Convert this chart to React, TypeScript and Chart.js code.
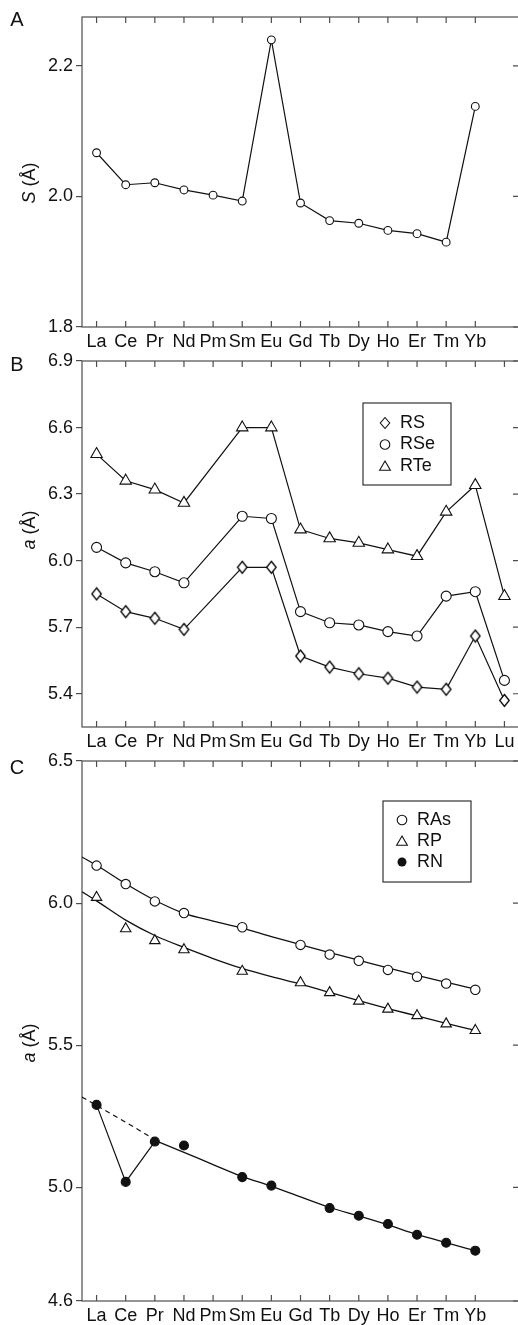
import React, { useEffect, useRef } from 'react';
import { Chart, registerables } from 'chart.js';

Chart.register(...registerables);

// ---------------- data ----------------
const elements = ['La', 'Ce', 'Pr', 'Nd', 'Pm', 'Sm', 'Eu', 'Gd', 'Tb', 'Dy', 'Ho', 'Er', 'Tm', 'Yb', 'Lu'];
const xIndex = elements.map((_, i) => i);
const xTicks14 = xIndex.slice(0, 14);
const xTicks15 = xIndex.slice(0, 15);

// Panel A: S (Å)
const sValues = [2.067, 2.018, 2.021, 2.010, 2.002, 1.993, 2.240, 1.990, 1.963, 1.959, 1.948, 1.943, 1.930, 2.138, null];
const aTicks = [1.8, 2.0, 2.2];

// Panel B: a (Å)
const rsValues = [5.85, 5.77, 5.74, 5.69, null, 5.97, 5.97, 5.57, 5.52, 5.49, 5.47, 5.43, 5.42, 5.66, 5.37];
const rseValues = [6.06, 5.99, 5.95, 5.90, null, 6.20, 6.19, 5.77, 5.72, 5.71, 5.68, 5.66, 5.84, 5.86, 5.46];
const rteValues = [6.48, 6.36, 6.32, 6.26, null, 6.60, 6.60, 6.14, 6.10, 6.08, 6.05, 6.02, 6.22, 6.34, 5.84];
const bTicks = [5.4, 5.7, 6.0, 6.3, 6.6, 6.9];

// Panel C: a (Å)
const rasValues = [6.132, 6.067, 6.006, 5.965, null, 5.915, null, 5.853, 5.819, 5.797, 5.765, 5.741, 5.717, 5.695, null];
const rpValues = [6.02, 5.91, 5.868, 5.836, null, 5.76, null, 5.72, 5.685, 5.655, 5.627, 5.604, 5.575, 5.552, null];
const rnValues = [5.29, 5.019, 5.161, 5.147, null, 5.036, 5.006, null, 4.927, 4.90, 4.871, 4.833, 4.805, 4.777, null];
const fitX = [-0.5, 0, 1, 2, 3, 4, 5, 6, 7, 8, 9, 10, 11, 12, 13];
const rasFit = [6.162, 6.133, 6.068, 6.010, 5.964, 5.937, 5.912, 5.882, 5.854, 5.826, 5.799, 5.772, 5.746, 5.721, 5.698];
const rpFit = [6.040, 6.008, 5.940, 5.886, 5.844, 5.805, 5.770, 5.741, 5.715, 5.686, 5.657, 5.629, 5.603, 5.577, 5.552];
const rnDashX = [-0.5, 0, 1, 2];
const rnDashFit = [5.318, 5.288, 5.229, 5.168];
const rnFitX = [2, 3, 4, 5, 6, 7, 8, 9, 10, 11, 12, 13];
const rnFit = [5.165, 5.123, 5.080, 5.038, 5.004, 4.966, 4.929, 4.899, 4.868, 4.834, 4.805, 4.777];
const rnLinkX = [0, 1, 2];
const cTicks = [4.6, 5.0, 5.5, 6.0, 6.5];

// ---------------- styling ----------------
const W = 540;
const H = 1325;
const FONT = '"Liberation Sans", Arial, Helvetica, sans-serif';
const INK = '#111111';
const FRAME = '#4d4d4d';

function pts(xs: number[], ys: (number | null)[]) {
  return xs.map((x, i) => ({ x, y: ys[i] }));
}

function makeDiamond(w: number, h: number) {
  const scale = 1;
  const c = document.createElement('canvas');
  c.width = Math.ceil(w + 3) * scale;
  c.height = Math.ceil(h + 3) * scale;
  const ctx = c.getContext('2d')!;
  const cx = c.width / 2;
  const cy = c.height / 2;
  ctx.beginPath();
  ctx.moveTo(cx, cy - h / 2);
  ctx.lineTo(cx + w / 2, cy);
  ctx.lineTo(cx, cy + h / 2);
  ctx.lineTo(cx - w / 2, cy);
  ctx.closePath();
  ctx.fillStyle = '#fff';
  ctx.fill();
  ctx.strokeStyle = '#000';
  ctx.lineWidth = 1.3;
  ctx.stroke();
  return c;
}

type LegendItem = { label: string; shape: 'diamond' | 'circle' | 'triangle' | 'dot' };
type Panel = {
  letter: string;
  letterY: number;
  titleMain: string;
  titleRest: string;
  titleY: number;
  top: number;
  bottom: number;
  yMin: number;
  yMax: number;
  yTicks: number[];
  xTicks: number[];
  datasets: any[];
  legend?: { box: [number, number, number, number]; markerX: number; textX: number; ys: number[]; items: LegendItem[] };
};

function drawShape(ctx: CanvasRenderingContext2D, shape: string, x: number, y: number) {
  ctx.save();
  ctx.strokeStyle = INK;
  ctx.fillStyle = '#fff';
  ctx.lineWidth = 1.1;
  ctx.beginPath();
  if (shape === 'diamond') {
    ctx.moveTo(x, y - 5.5);
    ctx.lineTo(x + 4.7, y);
    ctx.lineTo(x, y + 5.5);
    ctx.lineTo(x - 4.7, y);
    ctx.closePath();
    ctx.fill();
    ctx.stroke();
  } else if (shape === 'circle') {
    ctx.arc(x, y, 4.8, 0, Math.PI * 2);
    ctx.fill();
    ctx.stroke();
  } else if (shape === 'triangle') {
    const r = 6.2;
    for (let k = 0; k < 3; k++) {
      const ang = -Math.PI / 2 + (k * 2 * Math.PI) / 3;
      const px = x + Math.cos(ang) * r;
      const py = y + 1.2 + Math.sin(ang) * r;
      if (k === 0) ctx.moveTo(px, py);
      else ctx.lineTo(px, py);
    }
    ctx.closePath();
    ctx.fill();
    ctx.stroke();
  } else {
    ctx.arc(x, y, 4.5, 0, Math.PI * 2);
    ctx.fillStyle = INK;
    ctx.fill();
  }
  ctx.restore();
}

function buildConfig(p: Panel): any {
  const xH = 24;
  const framePlugin = {
    id: 'frame' + p.letter,
    beforeDatasetsDraw(chart: any) {
      const { ctx, chartArea: a, scales } = chart;
      const xs = scales.x;
      const ys = scales.y;
      ctx.save();
      ctx.strokeStyle = FRAME;
      ctx.lineWidth = 1.2;
      ctx.strokeRect(a.left, a.top, a.right - a.left, a.bottom - a.top);
      ctx.beginPath();
      xs.ticks.forEach((t: any) => {
        const px = xs.getPixelForValue(t.value);
        ctx.moveTo(px, a.top);
        ctx.lineTo(px, a.top + 6);
        ctx.moveTo(px, a.bottom);
        ctx.lineTo(px, a.bottom - 6);
      });
      ys.ticks.forEach((t: any) => {
        const py = ys.getPixelForValue(t.value);
        ctx.moveTo(a.right, py);
        ctx.lineTo(a.right - 6, py);
      });
      ctx.stroke();
      ctx.restore();
    },
    afterDraw(chart: any) {
      const { ctx } = chart;
      ctx.save();
      // panel letter
      ctx.fillStyle = INK;
      ctx.font = `20px ${FONT}`;
      ctx.textAlign = 'center';
      ctx.textBaseline = 'middle';
      ctx.fillText(p.letter, 17, p.letterY);
      // axis title (rotated)
      ctx.translate(30, p.titleY);
      ctx.rotate(-Math.PI / 2);
      ctx.textAlign = 'left';
      ctx.font = `italic 18px ${FONT}`;
      const w1 = ctx.measureText(p.titleMain).width;
      ctx.font = `18px ${FONT}`;
      const w2 = ctx.measureText(p.titleRest).width;
      const sx = -(w1 + w2) / 2;
      ctx.font = `italic 18px ${FONT}`;
      ctx.fillText(p.titleMain, sx, 0);
      ctx.font = `18px ${FONT}`;
      ctx.fillText(p.titleRest, sx + w1, 0);
      ctx.restore();
      // legend
      if (p.legend) {
        const L = p.legend;
        ctx.save();
        ctx.strokeStyle = '#333';
        ctx.lineWidth = 1.2;
        ctx.fillStyle = '#fff';
        ctx.fillRect(L.box[0], L.box[1], L.box[2] - L.box[0], L.box[3] - L.box[1]);
        ctx.strokeRect(L.box[0], L.box[1], L.box[2] - L.box[0], L.box[3] - L.box[1]);
        L.items.forEach((it, i) => {
          drawShape(ctx, it.shape, L.markerX, L.ys[i]);
          ctx.fillStyle = INK;
          ctx.font = `18px ${FONT}`;
          ctx.textAlign = 'left';
          ctx.textBaseline = 'middle';
          ctx.fillText(it.label, L.textX, L.ys[i]);
        });
        ctx.restore();
      }
    },
  };

  return {
    type: 'line',
    data: { datasets: p.datasets },
    options: {
      animation: false,
      responsive: false,
      devicePixelRatio: 1,
      events: [],
      layout: { padding: { left: 0, right: W - 519, top: p.top, bottom: H - p.bottom - xH } },
      plugins: { legend: { display: false }, tooltip: { enabled: false }, title: { display: false } },
      scales: {
        x: {
          type: 'linear',
          position: 'bottom',
          min: -0.5,
          max: 14.5,
          afterBuildTicks: (s: any) => {
            s.ticks = p.xTicks.map((v) => ({ value: v }));
          },
          afterFit: (s: any) => {
            s.height = xH;
          },
          grid: { display: true, drawOnChartArea: false, drawTicks: false },
          border: { display: false },
          ticks: {
            autoSkip: false,
            maxRotation: 0,
            padding: 4,
            color: INK,
            font: { family: FONT, size: 18 },
            callback: (v: any) => elements[Math.round(v)] ?? '',
          },
        },
        y: {
          type: 'linear',
          position: 'left',
          min: p.yMin,
          max: p.yMax,
          afterBuildTicks: (s: any) => {
            s.ticks = p.yTicks.map((v) => ({ value: v }));
          },
          afterFit: (s: any) => {
            s.width = 82;
          },
          grid: { display: true, drawOnChartArea: false, drawTicks: true, tickLength: 6, color: FRAME, lineWidth: 1.2 },
          border: { display: false },
          ticks: {
            padding: 3,
            color: INK,
            font: { family: FONT, size: 18 },
            callback: (v: any) => Number(v).toFixed(1),
          },
        },
      },
    },
    plugins: [framePlugin],
  };
}

const lineBase = { borderColor: INK, borderWidth: 1.2, pointBorderColor: INK, pointBorderWidth: 1.1, pointBackgroundColor: '#fff', tension: 0, spanGaps: true };

function buildPanels(): Panel[] {
  const diamond = makeDiamond(9.5, 12);
  return [
    {
      letter: 'A', letterY: 20, titleMain: 'S', titleRest: ' (Å)', titleY: 183,
      top: 17, bottom: 327, yMin: 1.8, yMax: 2.275, yTicks: aTicks, xTicks: xTicks14,
      datasets: [{ ...lineBase, label: 'S', data: pts(xIndex, sValues), pointStyle: 'circle', pointRadius: 3.9, spanGaps: false }],
    },
    {
      letter: 'B', letterY: 365, titleMain: 'a', titleRest: ' (Å)', titleY: 530,
      top: 361, bottom: 727, yMin: 5.25, yMax: 6.9, yTicks: bTicks, xTicks: xTicks15,
      datasets: [
        { ...lineBase, label: 'RS', data: pts(xIndex, rsValues), pointStyle: diamond, pointRadius: 6 },
        { ...lineBase, label: 'RSe', data: pts(xIndex, rseValues), pointStyle: 'circle', pointRadius: 5 },
        { ...lineBase, label: 'RTe', data: pts(xIndex, rteValues), pointStyle: 'triangle', pointRadius: 6.6 },
      ],
      legend: {
        box: [363, 403, 451, 485], markerX: 385, textX: 400, ys: [423, 444.5, 466],
        items: [
          { label: 'RS', shape: 'diamond' },
          { label: 'RSe', shape: 'circle' },
          { label: 'RTe', shape: 'triangle' },
        ],
      },
    },
    {
      letter: 'C', letterY: 768, titleMain: 'a', titleRest: ' (Å)', titleY: 1043,
      top: 761, bottom: 1301, yMin: 4.6, yMax: 6.5, yTicks: cTicks, xTicks: xTicks14,
      datasets: [
        { ...lineBase, label: 'RAs', data: pts(xIndex, rasValues), showLine: false, pointStyle: 'circle', pointRadius: 4.7 },
        { ...lineBase, label: 'RP', data: pts(xIndex, rpValues), showLine: false, pointStyle: 'triangle', pointRadius: 6 },
        { ...lineBase, label: 'RN', data: pts(xIndex, rnValues), showLine: false, pointStyle: 'circle', pointRadius: 4.5, pointBackgroundColor: INK },
        { ...lineBase, label: 'RN link', data: pts(rnLinkX, rnValues.slice(0, 3)), pointRadius: 0 },
        { ...lineBase, label: 'RAs fit', data: pts(fitX, rasFit), pointRadius: 0, cubicInterpolationMode: 'monotone', borderWidth: 1.3 },
        { ...lineBase, label: 'RP fit', data: pts(fitX, rpFit), pointRadius: 0, cubicInterpolationMode: 'monotone', borderWidth: 1.3 },
        { ...lineBase, label: 'RN fit', data: pts(rnFitX, rnFit), pointRadius: 0, cubicInterpolationMode: 'monotone', borderWidth: 1.3 },
        { ...lineBase, label: 'RN fit (dashed)', data: pts(rnDashX, rnDashFit), pointRadius: 0, cubicInterpolationMode: 'monotone', borderWidth: 1.2, borderDash: [5, 4] },
      ],
      legend: {
        box: [383, 801, 471, 882], markerX: 402, textX: 417, ys: [820, 841, 862],
        items: [
          { label: 'RAs', shape: 'circle' },
          { label: 'RP', shape: 'triangle' },
          { label: 'RN', shape: 'dot' },
        ],
      },
    },
  ];
}

export default function App() {
  const r0 = useRef<HTMLCanvasElement>(null);
  const r1 = useRef<HTMLCanvasElement>(null);
  const r2 = useRef<HTMLCanvasElement>(null);
  const refs = [r0, r1, r2];

  useEffect(() => {
    const panels = buildPanels();
    const charts = panels.map((p, i) => new Chart(refs[i].current as HTMLCanvasElement, buildConfig(p)));
    return () => charts.forEach((c) => c.destroy());
  }, []);

  return (
    <div style={{ position: 'fixed', left: 0, top: 0, width: 518, height: H, overflow: 'hidden', background: '#fff' }}>
      {refs.map((r, i) => (
        <canvas key={i} ref={r} width={W} height={H} style={{ position: 'absolute', left: 0, top: 0, width: W, height: H }} />
      ))}
    </div>
  );
}
